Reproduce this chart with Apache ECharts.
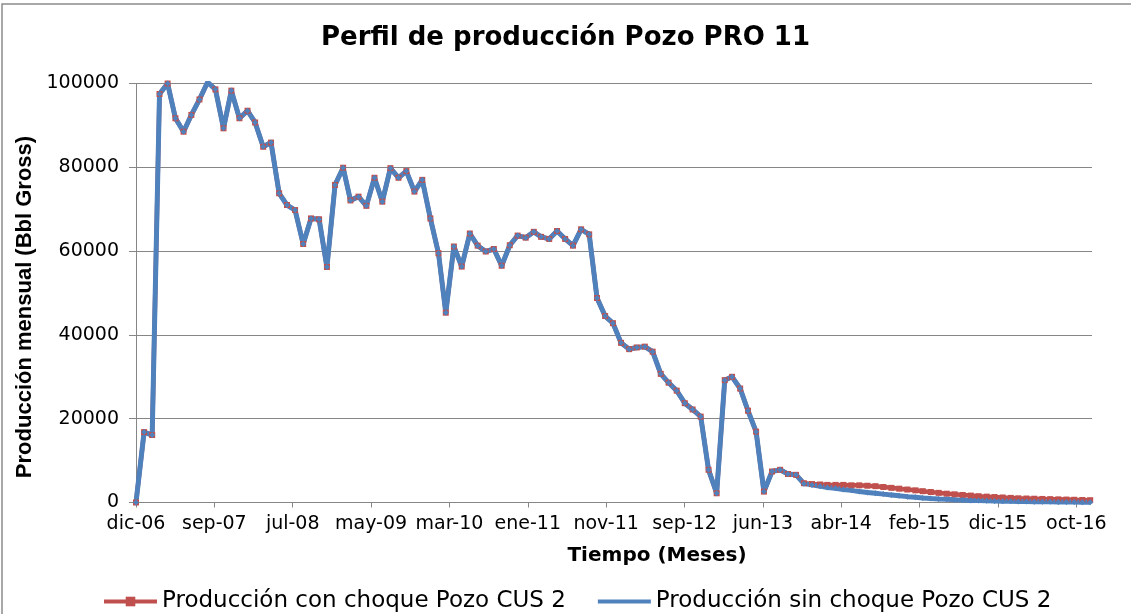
<!DOCTYPE html>
<html>
<head>
	<meta charset="utf-8">
	<title>Perfil de producción Pozo PRO 11</title>
	<script src="https://cdn.jsdelivr.net/npm/echarts@6/dist/echarts.min.js"></script>
	<style>
		html, body { margin: 0; padding: 0; background: #fff; }
		#chart { width: 1131px; height: 614px; }
	</style>
</head>
<body>
	<div id="chart"></div>
	<script type="text/javascript">
		// fecha de inicio del eje (día 0)
		var startDate = Date.UTC(2006, 11, 3);
		// etiquetas del eje X, una cada 300 días
		var tickLabels = ['dic-06', 'sep-07', 'jul-08', 'may-09', 'mar-10', 'ene-11', 'nov-11',
			'sep-12', 'jun-13', 'abr-14', 'feb-15', 'dic-15', 'oct-16'];
		var tickStep = 300;

		// producción mensual (Bbl Gross), 121 meses desde dic-06
		var conChoque = [
			0, 16800, 16100, 97500, 100000, 91700, 88500, 92500, 96200, 100300,
			98600, 89300, 98300, 91700, 93500, 90700, 84900, 85900, 73800, 71000,
			69800, 61700, 67800, 67600, 56200, 75800, 79900, 72100, 73000, 70800,
			77500, 71800, 79800, 77500, 79100, 74200, 77000, 67800, 59500, 45300,
			61100, 56300, 64200, 61300, 59900, 60500, 56500, 61400, 63700, 63200,
			64600, 63400, 62900, 64800, 62900, 61300, 65200, 64000, 48800, 44500,
			42800, 38100, 36600, 37000, 37200, 36000, 30700, 28600, 26700, 23700,
			22200, 20500, 7800, 2200, 29200, 30000, 27200, 21900, 16900, 2600,
			7400, 7800, 6800, 6600,
			4600, 4400, 4300, 4200, 4200, 4200, 4100, 4100, 4000, 3900,
			3700, 3500, 3300, 3100, 2900, 2700, 2500, 2300, 2100, 1950,
			1800, 1650, 1500, 1400, 1300, 1200, 1100, 1000, 950, 900,
			850, 800, 750, 700, 650, 600, 550
		];
		var sinChoque = [
			0, 16800, 16100, 97500, 100000, 91700, 88500, 92500, 96200, 100300,
			98600, 89300, 98300, 91700, 93500, 90700, 84900, 85900, 73800, 71000,
			69800, 61700, 67800, 67600, 56200, 75800, 79900, 72100, 73000, 70800,
			77500, 71800, 79800, 77500, 79100, 74200, 77000, 67800, 59500, 45300,
			61100, 56300, 64200, 61300, 59900, 60500, 56500, 61400, 63700, 63200,
			64600, 63400, 62900, 64800, 62900, 61300, 65200, 64000, 48800, 44500,
			42800, 38100, 36600, 37000, 37200, 36000, 30700, 28600, 26700, 23700,
			22200, 20500, 7800, 2200, 29200, 30000, 27200, 21900, 16900, 2600,
			7400, 7800, 6800, 6600,
			4500, 4200, 3900, 3600, 3400, 3100, 2900, 2600, 2400, 2200,
			2000, 1800, 1600, 1400, 1250, 1100, 950, 850, 750, 650,
			580, 500, 450, 400, 350, 320, 290, 260, 230, 200,
			180, 160, 140, 120, 100, 80, 60
		];

		// días desde el inicio para cada mes
		function toPoints(values) {
			var pts = [];
			for (var i = 0; i < values.length; i++) {
				var d = (Date.UTC(2006, 11 + i, 3) - startDate) / 86400000;
				pts.push([d, values[i]]);
			}
			return pts;
		}

		var tickValues = [];
		for (var k = 0; k < tickLabels.length; k++) {
			tickValues.push(k * tickStep);
		}

		var myChart = echarts.init(document.getElementById('chart'));
		var option = {
			animation: false,
			backgroundColor: '#fff',
			graphic: [{
				type: 'rect',
				shape: { x: 2, y: 4, width: 1200, height: 700 },
				style: { fill: 'none', stroke: '#8c8c8c', lineWidth: 1.5 },
				silent: true
			}],
			title: {
				text: 'Perfil de producción Pozo PRO 11',
				left: 'center',
				top: 25,
				padding: 0,
				textStyle: {
					fontFamily: 'DejaVu Sans',
					fontWeight: 'bold',
					fontSize: 26,
					color: '#000'
				}
			},
			legend: {
				left: 97,
				top: 585,
				itemWidth: 53,
				itemHeight: 12,
				itemGap: 30,
				lineStyle: { width: 4 },
				textStyle: {
					fontFamily: 'DejaVu Sans',
					fontSize: 23,
					color: '#000'
				},
				data: [
					{ name: 'Producción con choque Pozo CUS 2', itemStyle: { opacity: 1 } },
					{ name: 'Producción sin choque Pozo CUS 2', itemStyle: { opacity: 0 } }
				]
			},
			grid: {
				left: 136,
				right: 39,
				top: 83.5,
				bottom: 111.5
			},
			xAxis: {
				type: 'value',
				min: 0,
				max: 3660,
				interval: tickStep,
				name: 'Tiempo (Meses)',
				nameLocation: 'middle',
				nameGap: 43,
				nameTextStyle: {
					fontFamily: 'DejaVu Sans',
					fontWeight: 'bold',
					fontSize: 20,
					color: '#000',
					padding: [0, 0, 0, 86]
				},
				axisLine: { lineStyle: { color: '#868686', width: 1 } },
				axisTick: {
					show: true,
					length: 5,
					customValues: tickValues,
					lineStyle: { color: '#868686' }
				},
				axisLabel: {
					customValues: tickValues,
					margin: 12,
					fontFamily: 'DejaVu Sans',
					fontSize: 19,
					color: '#000',
					formatter: function(value) {
						var idx = Math.round(value / tickStep);
						return tickLabels[idx] || '';
					}
				},
				splitLine: { show: false }
			},
			yAxis: {
				type: 'value',
				min: 0,
				max: 100000,
				interval: 20000,
				name: 'Producción mensual (Bbl Gross)',
				nameLocation: 'middle',
				nameGap: 93,
				nameTextStyle: {
					fontFamily: 'Liberation Sans',
					fontWeight: 'bold',
					fontSize: 22,
					color: '#000',
					padding: [0, 28, 0, 0]
				},
				axisLine: { show: true, lineStyle: { color: '#868686', width: 1 } },
				axisTick: { show: true, length: 7, lineStyle: { color: '#868686' } },
				axisLabel: {
					margin: 17,
					fontFamily: 'DejaVu Sans',
					fontSize: 19,
					color: '#000',
					formatter: function(value) {
						return String(value);
					}
				},
				splitLine: { lineStyle: { color: '#868686', width: 1 } }
			},
			series: [{
				name: 'Producción con choque Pozo CUS 2',
				type: 'line',
				data: toPoints(conChoque),
				color: '#c0504d',
				symbol: 'rect',
				symbolSize: 6,
				showSymbol: true,
				lineStyle: { width: 4.5, color: '#c0504d' },
				itemStyle: { color: '#c0504d' }
			}, {
				name: 'Producción sin choque Pozo CUS 2',
				type: 'line',
				data: toPoints(sinChoque),
				color: '#4f81bd',
				symbol: 'diamond',
				symbolSize: 6,
				showSymbol: true,
				lineStyle: { width: 5, color: '#4f81bd' },
				itemStyle: { color: '#4f81bd' }
			}]
		};
		myChart.setOption(option);
	</script>
</body>
</html>
